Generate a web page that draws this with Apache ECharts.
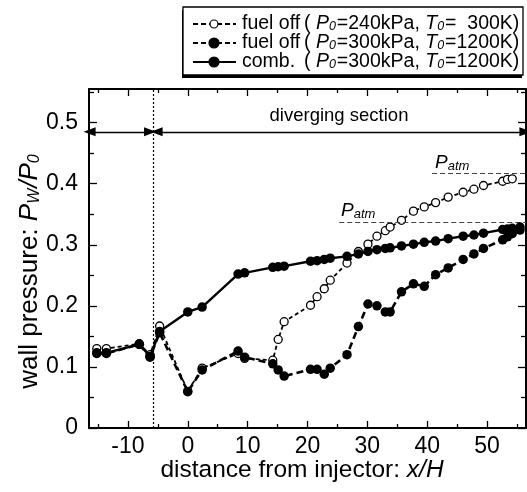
<!DOCTYPE html>
<html>
<head>
<meta charset="utf-8">
<script src="https://cdn.jsdelivr.net/npm/echarts@6/dist/echarts.min.js"></script>
<style>
html,body{margin:0;padding:0;background:#fff;}
#c{width:527px;height:492px;}
</style>
</head>
<body>
<div id="c"></div>
<script>
// ---- data ----
const xPos = [-15.2, -13.6, -8.1, -6.3, -4.7, 0, 2.4, 8.4, 9.5, 14.2, 15.1, 16.1, 20.5, 21.6, 22.8, 23.8, 26.6, 28.5, 30.1, 31.6, 33.0, 33.8, 35.7, 37.7, 39.5, 41.4, 43.5, 46.0, 47.8, 49.4, 52.6, 53.4, 54.2, 55.5];
const combVals = [0.123, 0.123, 0.137, 0.117, 0.158, 0.190, 0.198, 0.252, 0.254, 0.263, 0.264, 0.265, 0.273, 0.274, 0.276, 0.278, 0.281, 0.285, 0.289, 0.292, 0.294, 0.295, 0.298, 0.301, 0.304, 0.306, 0.310, 0.314, 0.316, 0.319, 0.325, 0.326, 0.327, 0.329];
const fuelOff300Vals = [0.122, 0.122, 0.137, 0.116, 0.156, 0.0595, 0.095, 0.126, 0.116, 0.105, 0.095, 0.085, 0.096, 0.096, 0.088, 0.098, 0.120, 0.166, 0.203, 0.200, 0.190, 0.190, 0.223, 0.236, 0.232, 0.251, 0.262, 0.276, 0.285, 0.294, 0.308, 0.313, 0.318, 0.324];
const fuelOff240Vals = [0.130, 0.130, 0.138, 0.120, 0.167, 0.060, 0.098, 0.122, 0.114, 0.111, 0.145, 0.174, 0.201, 0.215, 0.228, 0.242, 0.270, 0.289, 0.301, 0.314, 0.323, 0.329, 0.340, 0.355, 0.362, 0.369, 0.378, 0.386, 0.391, 0.397, 0.404, 0.407, 0.408, null];

const xMajorTicks = [-10, 0, 10, 20, 30, 40, 50];
const xMinorTicks = [-15, -5, 5, 15, 25, 35, 45, 55];
const yMajorTicks = [0, 0.1, 0.2, 0.3, 0.4, 0.5];
const yMinorTicks = [0.05, 0.15, 0.25, 0.35, 0.45, 0.55];

const legendNames = ['fuel off', 'fuel off', 'comb.'];
const legendP0 = ['240kPa', '300kPa', '300kPa'];
const legendT0 = ['  300K)', '1200K)', '1200K)'];

const injectorX = -5.8;          // dotted line (start of diverging section)
const arrowY = 0.485;
const patmHigh = 0.4175, patmHighStart = 40.8;
const patmLow = 0.337, patmLowStart = 25.3;

const X_MIN = -16.5, X_MAX = 56.5, Y_MIN = 0, Y_MAX = 0.555;

// ---- chart ----
const chart = echarts.init(document.getElementById('c'), null, {renderer: 'canvas'});
const FONT = 'Liberation Sans, Arial, Helvetica, sans-serif';
const BLACK = '#000';

function pairs(vals) { return xPos.map((x, i) => [x, vals[i]]); }

function xAxisDef(pos, ticks, len, labels) {
  return {
    type: 'value', position: pos, min: X_MIN, max: X_MAX, gridIndex: 0,
    axisLine: {show: len > 5, onZero: false, lineStyle: {color: BLACK, width: 2}},
    axisTick: {show: true, inside: true, length: len, customValues: ticks, lineStyle: {color: BLACK, width: 1.3}},
    axisLabel: labels ? {show: true, customValues: ticks, color: BLACK, fontSize: 23, fontFamily: FONT, margin: 7,
      formatter: v => String(Math.round(v))} : {show: false},
    splitLine: {show: false}
  };
}
function yAxisDef(pos, ticks, len, labels) {
  return {
    type: 'value', position: pos, min: Y_MIN, max: Y_MAX, gridIndex: 0,
    axisLine: {show: len > 5, onZero: false, lineStyle: {color: BLACK, width: 2}},
    axisTick: {show: true, inside: true, length: len, customValues: ticks, lineStyle: {color: BLACK, width: 1.3}},
    axisLabel: labels ? {show: true, customValues: ticks, color: BLACK, fontSize: 23, fontFamily: FONT, margin: 11,
      formatter: v => (Math.abs(v) < 1e-9 ? '0' : v.toFixed(1))} : {show: false},
    splitLine: {show: false}
  };
}

const LF = 19.5;  // legend font size
const legendGraphics = [];
const LX = 183, LY = 7, LW = 340, LH = 68;
legendGraphics.push({type: 'rect', shape: {x: LX - 1, y: LY + 3, width: LW, height: LH}, style: {fill: BLACK}, z: 100});
legendGraphics.push({type: 'rect', shape: {x: LX, y: LY, width: LW, height: LH}, style: {fill: '#fff', stroke: BLACK, lineWidth: 1.3}, z: 101});
const rowY = [24, 43, 62];
const dashes = [[5, 3], [5, 3], null];
for (let r = 0; r < 3; r++) {
  legendGraphics.push({type: 'line', shape: {x1: 193, y1: rowY[r], x2: 236, y2: rowY[r]},
    style: {stroke: BLACK, lineWidth: r === 2 ? 2.2 : 1.8, lineDash: dashes[r]}, z: 102});
  legendGraphics.push({type: 'circle', shape: {cx: 214, cy: rowY[r], r: r === 0 ? 4 : 5},
    style: {fill: r === 0 ? '#fff' : BLACK, stroke: BLACK, lineWidth: 1.2}, z: 103});
  legendGraphics.push({type: 'text', x: 242, y: rowY[r],
    style: {text: legendNames[r], font: LF + 'px ' + FONT, fill: BLACK, textVerticalAlign: 'middle'}, z: 103});
  legendGraphics.push({type: 'text', x: 304, y: rowY[r],
    style: {text: '( {i|P}{s|0}=' + legendP0[r] + ', {i|T}{s|0}=' + legendT0[r], fill: BLACK, textVerticalAlign: 'middle',
      font: LF + 'px ' + FONT, fontSize: LF, fontFamily: FONT,
      rich: {i: {fontStyle: 'italic', fontSize: LF, fontFamily: FONT}, s: {fontStyle: 'italic', fontSize: 12.5, fontFamily: FONT, padding: [5, 1, 0, 0]}}}, z: 103});
}

const option = {
  animation: false,
  backgroundColor: '#fff',
  grid: {left: 89, right: 1, top: 89, bottom: 64, containLabel: false},
  xAxis: [
    xAxisDef('bottom', xMajorTicks, 7, true),
    xAxisDef('bottom', xMinorTicks, 4, false),
    xAxisDef('top', xMajorTicks, 7, false),
    xAxisDef('top', xMinorTicks, 4, false)
  ],
  yAxis: [
    yAxisDef('left', yMajorTicks, 8, true),
    yAxisDef('left', yMinorTicks, 5, false),
    yAxisDef('right', yMajorTicks, 8, false),
    yAxisDef('right', yMinorTicks, 5, false)
  ],
  series: [
    {
      name: 'fuel off 240', type: 'line', data: pairs(fuelOff240Vals), z: 3,
      symbol: 'circle', symbolSize: 8, clip: true,
      lineStyle: {color: BLACK, width: 1.8, type: [4, 3]},
      itemStyle: {color: '#fff', borderColor: BLACK, borderWidth: 1.3},
      markLine: {
        silent: true, symbol: ['none', 'none'], label: {show: false},
        lineStyle: {color: '#444', width: 1.2, type: [5, 3]},
        data: [
          [{coord: [patmHighStart, patmHigh]}, {coord: [X_MAX, patmHigh]}],
          [{coord: [patmLowStart, patmLow]}, {coord: [X_MAX, patmLow]}]
        ]
      }
    },
    {
      name: 'fuel off 300', type: 'line', data: pairs(fuelOff300Vals), z: 4,
      symbol: 'circle', symbolSize: 9.5, clip: true,
      lineStyle: {color: BLACK, width: 2.6, type: [7, 4]},
      itemStyle: {color: BLACK, borderColor: BLACK, borderWidth: 0},
      markLine: {
        silent: true, label: {show: false}, symbol: ['triangle', 'triangle'], symbolSize: [9, 12],
        lineStyle: {color: BLACK, width: 1.3, type: 'solid'},
        data: [
          [{coord: [X_MIN + 0.1, arrowY]}, {coord: [injectorX - 0.5, arrowY]}],
          [{coord: [injectorX + 0.6, arrowY]}, {coord: [X_MAX - 0.1, arrowY]}]
        ]
      }
    },
    {
      name: 'comb', type: 'line', data: pairs(combVals), z: 5,
      symbol: 'circle', symbolSize: 9.5, clip: true,
      lineStyle: {color: BLACK, width: 2.4, type: 'solid'},
      itemStyle: {color: BLACK, borderWidth: 0},
      markLine: {
        silent: true, symbol: ['none', 'none'], label: {show: false},
        lineStyle: {color: BLACK, width: 1.2, type: [2, 2]},
        data: [{xAxis: injectorX}]
      }
    }
  ],
  graphic: [
    ...legendGraphics,
    {type: 'text', x: 339, y: 116, style: {text: 'diverging section', font: '18.5px ' + FONT, fill: BLACK, textAlign: 'center', textVerticalAlign: 'middle'}, z: 50},
    {type: 'text', x: 435, y: 163, style: {text: '{i|P}{s|atm}', fill: BLACK, textVerticalAlign: 'middle',
      rich: {i: {fontStyle: 'italic', fontSize: 19, fontFamily: FONT}, s: {fontStyle: 'italic', fontSize: 13, fontFamily: FONT, padding: [7, 0, 0, 0]}}}, z: 50},
    {type: 'text', x: 341, y: 211, style: {text: '{i|P}{s|atm}', fill: BLACK, textVerticalAlign: 'middle',
      rich: {i: {fontStyle: 'italic', fontSize: 19, fontFamily: FONT}, s: {fontStyle: 'italic', fontSize: 13, fontFamily: FONT, padding: [7, 0, 0, 0]}}}, z: 50},
    {type: 'text', x: 302, y: 470, style: {text: 'distance from injector: {i|x/H}', fill: BLACK, textAlign: 'center', textVerticalAlign: 'middle',
      font: '24.5px ' + FONT, fontSize: 24.5, fontFamily: FONT, rich: {i: {fontStyle: 'italic', fontSize: 24.5, fontFamily: FONT}}}, z: 50},
    {type: 'text', x: 30, y: 271, rotation: Math.PI / 2, style: {text: 'wall pressure: {i|P}{s|W}{i|/P}{s|0}', fill: BLACK, textAlign: 'center', textVerticalAlign: 'middle',
      font: '26px ' + FONT, fontSize: 26, fontFamily: FONT, rich: {i: {fontStyle: 'italic', fontSize: 26, fontFamily: FONT}, s: {fontStyle: 'italic', fontSize: 16, fontFamily: FONT, padding: [9, 1, 0, 0]}}}, z: 50}
  ]
};
chart.setOption(option);
</script>
</body>
</html>
